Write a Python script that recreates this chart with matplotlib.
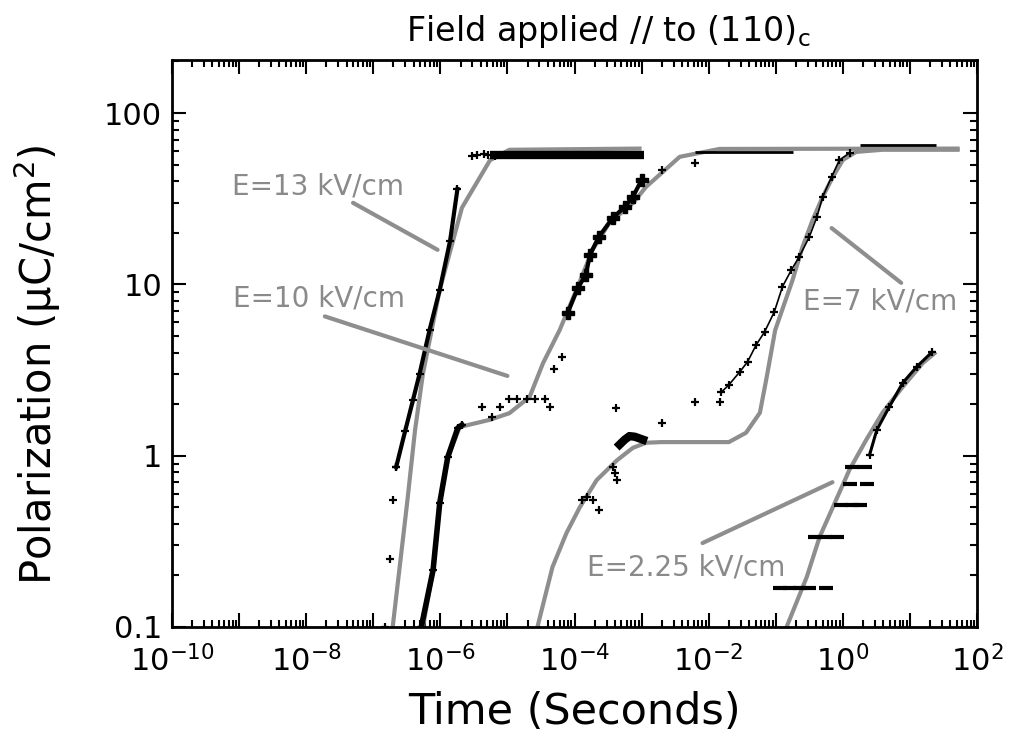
import numpy as np
import matplotlib
matplotlib.use("Agg")
import matplotlib.pyplot as plt
from matplotlib.ticker import LogLocator, FuncFormatter, NullFormatter

# ---------------- data (time in s, polarization in uC/cm^2) ----------------
# E = 13 kV/cm measured
t13_data = [1.5e-7, 1.8e-7, 1.95e-7, 2.2e-7, 3.0e-7, 3.9e-7, 4.9e-7, 6.9e-7, 9.8e-7, 1.4e-6, 1.8e-6]
p13_data = [0.10, 0.25, 0.55, 0.86, 1.4, 2.1, 3.0, 5.4, 9.3, 18, 36]
t13_sat = [3.0e-6, 3.5e-6, 4.5e-6, 5.2e-6, 6.5e-6, 8.0e-6]
p13_sat = [56, 57, 58, 57, 56, 57]
t13_band = [5.5e-6, 1.1e-3]
p13_band = [57, 57]
# E = 13 kV/cm model
t13_fit = [1.95e-7, 3.2e-7, 4.2e-7, 5.5e-7, 9.8e-7, 2.1e-6, 5.5e-6, 1.07e-5, 1.0e-3]
p13_fit = [0.1, 0.53, 1.41, 3.0, 9.3, 28, 53, 61, 62]

# E = 10 kV/cm measured
t10_steep = [5.2e-7, 7.8e-7, 9.8e-7, 1.29e-6, 1.82e-6, 2.1e-6]
p10_steep = [0.10, 0.215, 0.53, 0.98, 1.45, 1.51]
t10_data = [4.2e-6, 5.9e-6, 7.8e-6, 1.07e-5, 1.38e-5, 1.95e-5, 2.6e-5, 3.6e-5, 4.3e-5,
            5.0e-5, 6.6e-5]
p10_data = [1.92, 1.68, 1.92, 2.14, 2.14, 2.14, 2.14, 2.14, 1.92, 3.2, 3.77]
t10_rise = [7.9e-5, 1.12e-4, 1.48e-4, 1.7e-4, 2.3e-4, 3.7e-4, 5.6e-4, 7.4e-4, 1.0e-3]
p10_rise = [6.8, 9.5, 11.4, 14.9, 18.9, 24.4, 28.3, 32.4, 40.6]
t10_late = [2.0e-3, 6.2e-3]
p10_late = [46.6, 51.2]
t10_band = [6.2e-3, 0.18]
p10_band = [59, 59]
# E = 10 kV/cm model
t10_fit = [5.5e-7, 7.8e-7, 9.8e-7, 1.29e-6, 1.95e-6, 5.5e-6, 1.07e-5, 2.14e-5, 3.4e-5,
           6.0e-5, 1.07e-4, 1.86e-4, 3.3e-4, 7.4e-4, 1.17e-3, 3.7e-3, 1.45e-2, 55]
p10_fit = [0.1, 0.215, 0.53, 0.98, 1.47, 1.62, 1.77, 2.2, 3.47,
           5.4, 9.3, 15.9, 22.8, 29.8, 37.1, 55.5, 61.7, 62]

# E = 7 kV/cm measured
t7_data = [1.3e-4, 1.51e-4, 1.86e-4, 2.3e-4, 3.7e-4, 4.0e-4, 4.3e-4, 4.1e-4,
           4.7e-4, 5.6e-4, 6.6e-4, 7.9e-4, 1.05e-3, 2.0e-3, 6.2e-3, 1.45e-2]
p7_data = [0.55, 0.574, 0.55, 0.48, 0.86, 0.79, 0.72, 1.9,
           1.16, 1.24, 1.3, 1.29, 1.24, 1.55, 2.06, 2.06]
t7_rise = [1.55e-2, 2.0e-2, 2.9e-2, 3.8e-2, 5.1e-2, 6.8e-2, 9.5e-2, 0.126, 0.17, 0.224,
           0.316, 0.41, 0.50, 0.68, 0.89, 1.26]
p7_rise = [2.35, 2.59, 3.08, 3.53, 4.43, 5.27, 6.9, 9.7, 12.1, 14.5,
           18.9, 24.7, 32.4, 42.4, 53.2, 58.5]
t7_band = [1.78, 24.5]
p7_band = [65, 65]
# E = 7 kV/cm model
t7_fit = [2.8e-5, 4.7e-5, 7.6e-5, 1.2e-4, 2.14e-4, 4.3e-4, 7.4e-4, 1.17e-3, 2.0e-3, 2.0e-2,
          3.6e-2, 5.8e-2, 7.2e-2, 9.8e-2, 0.178, 0.25, 0.355, 0.50, 0.71, 1.0, 1.58, 3.9, 55]
p7_fit = [0.1, 0.224, 0.354, 0.50, 0.72, 0.94, 1.11, 1.19, 1.20, 1.20,
          1.36, 1.78, 2.77, 5.4, 10.6, 16.5, 23.8, 32.4, 42.4, 53.2, 59.3, 61, 61]

# E = 2.25 kV/cm measured
t2_data = [0.114, 0.161, 0.226, 0.318, 0.57, 0.38, 0.54, 0.83, 0.95, 1.35, 1.78, 1.26, 2.3, 1.35, 2.14]
p2_data = [0.17, 0.17, 0.17, 0.17, 0.17, 0.335, 0.335, 0.335, 0.515, 0.515, 0.515, 0.684, 0.684, 0.86, 0.86]
t2_rise = [2.5, 3.2, 4.9, 7.8, 12.6, 21.4]
p2_rise = [1.01, 1.41, 1.92, 2.66, 3.3, 4.03]
# E = 2.25 kV/cm model
t2_fit = [0.145, 0.29, 0.45, 0.79, 1.26, 2.24, 3.9, 7.8, 15.5, 24.5]
p2_fit = [0.1, 0.196, 0.335, 0.55, 0.83, 1.24, 1.78, 2.52, 3.47, 4.03]

labels = ["E=13 kV/cm", "E=10 kV/cm", "E=7 kV/cm", "E=2.25 kV/cm"]

# ---------------- figure ----------------
plt.rcParams['font.family'] = ['DejaVu Sans']
plt.rcParams['mathtext.fontset'] = 'dejavusans'
fig = plt.figure(figsize=(10.11, 7.42), dpi=100)
ax = fig.add_axes([0.1701, 0.155, 0.7963, 0.7642])
ax.set_xscale('log')
ax.set_yscale('log')

GRAY = '#8e8e8e'
TXT = '#8a8a8a'

# model curves (gray)
for tt, pp in [(t13_fit, p13_fit), (t10_fit, p10_fit), (t7_fit, p7_fit), (t2_fit, p2_fit)]:
    ax.plot(tt, pp, color=GRAY, lw=3, zorder=2, solid_capstyle='butt')

# measured data (black)
mk = dict(color='black', marker='+', ms=6, mew=1.6, zorder=3)
ax.plot(t13_data[:4], p13_data[:4], ls='none', **mk)
ax.plot(t13_data[3:], p13_data[3:], lw=3, **mk)
ax.plot(t13_sat, p13_sat, ls='none', **mk)
ax.plot(t13_band, p13_band, color='black', lw=6, zorder=3, solid_capstyle='butt')

ax.plot(t10_steep, p10_steep, lw=4, **mk)
ax.plot(t10_data, p10_data, ls='none', **mk)
ax.plot(t10_rise, p10_rise, lw=3, color='black', marker='P', ms=8, zorder=3)
ax.plot(t10_late, p10_late, ls='none', **mk)
ax.plot(t10_band, p10_band, color='black', lw=2, zorder=3, solid_capstyle='butt')

ax.plot(t7_data, p7_data, ls='none', **mk)
ax.plot(t7_data[8:13], p7_data[8:13], color='black', lw=6, zorder=3)
ax.plot(t7_rise, p7_rise, lw=1.2, **mk)
ax.plot(t7_band, p7_band, color='black', lw=2, zorder=3, solid_capstyle='butt')

ax.plot(t2_data, p2_data, ls='none', color='black', marker='_', ms=10, mew=3, zorder=3)
ax.plot(t2_rise, p2_rise, lw=2.2, **mk)

# annotations
arrow = dict(arrowstyle='-', color=GRAY, lw=3, shrinkA=0, shrinkB=0)
fs_ann = 20
ax.text(1.48e-8, 37, labels[0], color=TXT, fontsize=fs_ann, ha='center', va='center')
ax.annotate('', xy=(9.1e-7, 15.9), xytext=(5.0e-8, 29.9), arrowprops=arrow)
ax.text(1.58e-8, 8.3, labels[1], color=TXT, fontsize=fs_ann, ha='center', va='center')
ax.annotate('', xy=(1.0e-5, 2.92), xytext=(1.9e-8, 6.5), arrowprops=arrow)
ax.text(3.6, 7.9, labels[2], color=TXT, fontsize=fs_ann, ha='center', va='center')
ax.annotate('', xy=(0.68, 21.3), xytext=(7.4, 10.2), arrowprops=arrow)
ax.text(4.6e-3, 0.221, labels[3], color=TXT, fontsize=fs_ann, ha='center', va='center')
ax.annotate('', xy=(0.70, 0.70), xytext=(8.1e-3, 0.309), arrowprops=arrow)

# axes formatting
ax.set_xlim(1e-10, 1e2)
ax.set_ylim(0.1, 204)
ax.xaxis.set_major_locator(LogLocator(base=10, numticks=30))
ax.xaxis.set_minor_locator(LogLocator(base=10, subs=np.arange(2, 10), numticks=30))
ax.yaxis.set_major_locator(LogLocator(base=10, numticks=30))
ax.yaxis.set_minor_locator(LogLocator(base=10, subs=np.arange(2, 10), numticks=30))


def xfmt(v, pos):
    e = int(round(np.log10(v)))
    return r'$10^{%d}$' % e if e % 2 == 0 else ''


def yfmt(v, pos):
    return '%g' % v


ax.xaxis.set_major_formatter(FuncFormatter(xfmt))
ax.yaxis.set_major_formatter(FuncFormatter(yfmt))
ax.xaxis.set_minor_formatter(NullFormatter())
ax.yaxis.set_minor_formatter(NullFormatter())
ax.tick_params(which='both', direction='in', top=True, right=True, width=1.5)
ax.tick_params(which='major', length=10)
ax.tick_params(axis='x', which='major', pad=13, labelsize=22)
ax.tick_params(axis='y', which='major', pad=7, labelsize=22)
ax.tick_params(which='minor', length=5)
for s in ax.spines.values():
    s.set_linewidth(2)

ax.set_xlabel('Time (Seconds)', fontsize=31, labelpad=10)
ax.set_ylabel('Polarization (µC/cm$^2$)', fontsize=30)
ax.yaxis.set_label_coords(-0.135, 0.462)
fig.text(0.602, 0.958, r'Field applied // to (110)$_\mathregular{c}$', fontsize=24,
         ha='center', va='center')

fig.savefig('out.png', dpi=100)
